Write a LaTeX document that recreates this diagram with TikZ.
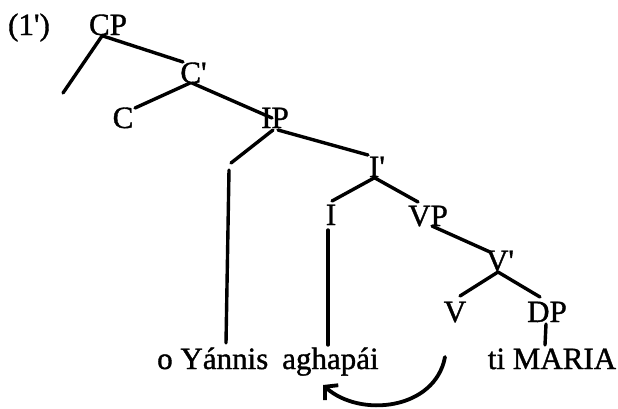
\documentclass[tikz,border=0pt]{standalone}
\usepackage{fontspec}
\setmainfont{Liberation Serif}[Ligatures=TeXOff, FakeBold=1.2]
\usetikzlibrary{calc,arrows.meta}
\begin{document}
\begin{tikzpicture}[x=1pt,y=-1pt,
  lab/.style={font=\fontsize{31}{36}\selectfont, inner sep=0pt, anchor=base},
  word/.style={font=\fontsize{31}{36}\selectfont, inner sep=0pt},
  branch/.style={line width=3.4pt, line cap=round},
  mv/.style={line width=3.8pt, line cap=round, -{Straight Barb[length=9pt,width=20pt]}}]
\useasboundingbox (0,0) rectangle (618,408);
% labels
\node[lab] (num) at (29,35) {(1')};
\node[lab] (CP) at (108,35) {CP};
\node[lab] (Cb) at (193.5,83) {C'};
\node[lab] (C) at (123,128) {C};
\node[lab] (IP) at (275,128) {IP};
\node[lab] (Ib) at (377,177) {I'};
\node[lab] (I) at (331,225) {I};
\node[lab] (VP) at (428,226) {VP};
\node[lab] (Vb) at (500,271) {V'};
\node[lab] (V) at (455,322) {V};
\node[lab] (DP) at (547,322) {DP};
\node[word, anchor=base west] (yan) at (157,369) {o Yánnis};
\node[word, anchor=base west] (agh) at (282,369) {aghapái};
\node[word, anchor=base] (mar) at (552,369) {ti MARIA};
% free ends
\coordinate (specC) at (63,93);
\coordinate (specItop) at (231,163);
\coordinate (specIbot) at (229,170);
% branches
\draw[branch] ($(CP.base)+(-6,1)$) -- (specC);
\draw[branch] ($(CP.base)+(-5,1)$) -- ($(Cb.base)+(-10.5,-21)$);
\draw[branch] ($(Cb.base)+(-3.5,0)$) -- ($(C.base)+(12,-20)$);
\draw[branch] ($(Cb.base)+(-1.5,0)$) -- ($(IP.base)+(-3,-10)$);
\draw[branch] ($(IP.base)+(-2,2)$) -- (specItop);
\draw[branch] (specIbot) -- ($(yan.base west)+(69,-26)$);
\draw[branch] ($(IP.base)+(3,2)$) -- ($(Ib.base)+(-9,-22)$);
\draw[branch] ($(Ib.base)+(-3,1)$) -- ($(I.base)+(1,-24)$);
\draw[branch] ($(Ib.base)+(-2,1)$) -- ($(VP.base)+(-10,-24)$);
\draw[branch] ($(I.base)+(-3,5)$) -- ($(agh.base west)+(46,-24)$);
\draw[branch] ($(VP.base)+(4,0)$) -- ($(Vb.base)+(-10,-19)$);
\draw[branch] ($(Vb.base)+(-2,1)$) -- ($(V.base)+(5,-26)$);
\draw[branch] ($(Vb.base)+(-2,1)$) -- ($(DP.base)+(-7,-25)$);
\draw[branch] ($(DP.base)+(-1,2)$) -- ($(mar.base)+(-7,-24)$);
% movement arrow
\draw[mv] ($(V.base)+(-10,35)$) .. controls +(-10,53) and +(37,33) .. ($(agh.base west)+(41,16)$);
\end{tikzpicture}
\end{document}
